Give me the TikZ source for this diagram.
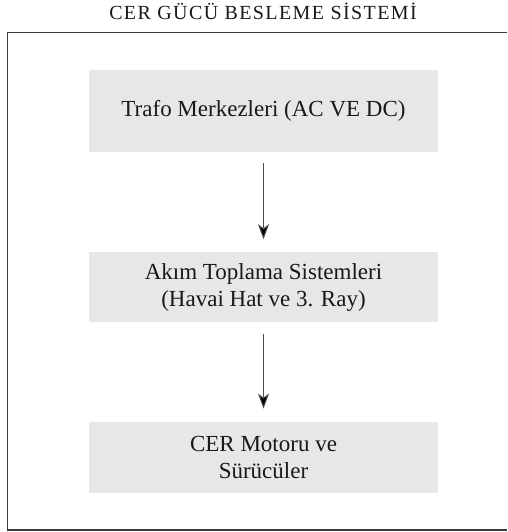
\documentclass[tikz,border=0pt]{standalone}
\usepackage{fontspec}
\setmainfont{Liberation Serif}
\usepackage{tikz}
\usetikzlibrary{positioning,arrows.meta}
\definecolor{boxgray}{HTML}{E6E7E8}
\definecolor{framegray}{HTML}{3A3A3A}
\definecolor{linegray}{HTML}{4D4D4D}
\tikzstyle{stage}  = [rectangle, fill=boxgray, minimum width=349pt, align=center, font=\fontsize{23}{26.5}\selectfont, text=black!90]
\tikzstyle{arrow}  = [draw=linegray, line width=1pt, -{Stealth[length=15pt,width=11pt,inset=4pt,fill=black]}, shorten <=11pt, shorten >=13pt]

\begin{document}
\begin{tikzpicture}[x=1pt,y=1pt,node distance=100pt]
	\useasboundingbox (0,0) rectangle (507,532);

	% title and frame
	\node[anchor=base, font=\fontsize{20}{24}\selectfont\addfontfeature{LetterSpace=7}, text=black!90] (title) at (263,512) {CER GÜCÜ BESLEME SİSTEMİ};
	\draw[framegray, line width=1.3pt] (507,499.5) -- (7.7,499.5) -- (7.7,2) -- (507,2);

	% stages
	\node[stage, minimum height=82pt] (trafo) at (263.5,421) {Trafo Merkezleri (AC VE DC)};
	\node[stage, minimum height=70pt, below=of trafo] (akim) {Akım Toplama Sistemleri\\(Havai Hat ve 3. Ray)};
	\node[stage, minimum height=71pt, below=99pt of akim] (motor) {CER Motoru ve\\Sürücüler};

	\draw[arrow] (trafo) -- (akim);
	\draw[arrow] (akim) -- (motor);
\end{tikzpicture}
\end{document}
